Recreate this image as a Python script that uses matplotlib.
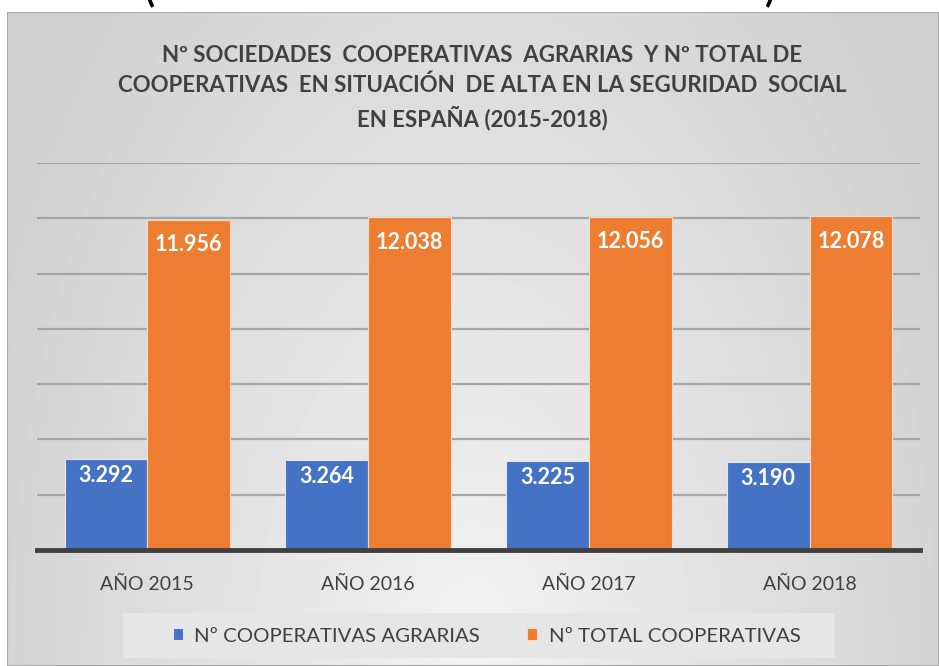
import numpy as np
from matplotlib import pyplot as plt
from matplotlib.patches import Rectangle

# datos
years = ["AÑO 2015", "AÑO 2016", "AÑO 2017", "AÑO 2018"]
agrarias = [3292, 3264, 3225, 3190]
total = [11956, 12038, 12056, 12078]
labels_agr = ["3.292", "3.264", "3.225", "3.190"]
labels_tot = ["11.956", "12.038", "12.056", "12.078"]
series_names = ["Nº COOPERATIVAS AGRARIAS", "Nº TOTAL COOPERATIVAS"]
title = ("Nº SOCIEDADES  COOPERATIVAS  AGRARIAS  Y Nº TOTAL DE\n"
         "COOPERATIVAS  EN SITUACIÓN  DE ALTA EN LA SEGURIDAD  SOCIAL\n"
         "EN ESPAÑA (2015-2018)")

plt.rcParams['font.family'] = ['Lato', 'DejaVu Sans']
BLUE = "#4472C4"
ORANGE = "#ED7D31"
TXT = "#404040"

W, H = 939, 666
fig = plt.figure(figsize=(W / 100, H / 100), dpi=100)
fig.patch.set_facecolor("white")

# fondo con degradado del area del grafico
bg = fig.add_axes([7 / W, 0, 1 - 7 / W, (H - 12) / H])
yy, xx = np.mgrid[0:1:200j, -1:1:300j]
d = np.sqrt((xx / 1.1) ** 2 + ((yy - 1.0) / 1.4) ** 2)
shade = 0.95 - 0.13 * np.clip(d, 0, 1)
bg.imshow(shade, cmap="gray", vmin=0, vmax=1, aspect="auto", origin="upper",
          extent=[0, 1, 0, 1], interpolation="bilinear")
bg.add_patch(Rectangle((0, 0), 1, 1, transform=bg.transAxes, fill=False,
                       edgecolor="#a8a8a8", linewidth=1.5))
bg.set_xlim(0, 1)
bg.set_ylim(0, 1)
bg.axis("off")
# fondo de la leyenda
fig.patches.append(Rectangle((123 / W, 1 - 658 / H), 712 / W, 45 / H,
                             transform=fig.transFigure, facecolor="#e6e6e6",
                             edgecolor="none", zorder=1))

# restos del titulo superior, cortado en la imagen original
fig.text(150 / W, 1 - 8 / H, "(", fontsize=26, fontweight="bold", color="black",
         ha="center", va="bottom")
fig.text(770 / W, 1 - 8 / H, ")", fontsize=26, fontweight="bold", color="black",
         ha="center", va="bottom")

ax = fig.add_axes([37 / W, 1 - 550 / H, 883 / W, 387 / H])
ax.patch.set_alpha(0)
x = np.arange(len(years))
bw = 0.375
b1 = ax.bar(x - bw / 2, agrarias, bw, color=BLUE, edgecolor="#dfe6f3",
            linewidth=0.8, zorder=3, label=series_names[0])
b2 = ax.bar(x + bw / 2, total, bw, color=ORANGE, edgecolor="#f6d9c4",
            linewidth=0.8, zorder=3, label=series_names[1])

for rect, lab in zip(b1, labels_agr):
    ax.text(rect.get_x() + rect.get_width() / 2, rect.get_height() - 600, lab,
            ha="center", va="center", color="white", fontsize=15.5,
            fontweight="bold", zorder=5)
for rect, lab in zip(b2, labels_tot):
    ax.text(rect.get_x() + rect.get_width() / 2, rect.get_height() - 900, lab,
            ha="center", va="center", color="white", fontsize=15.5,
            fontweight="bold", zorder=5)

ax.set_ylim(0, 14000)
ax.set_xlim(-0.5, len(years) - 0.5)
ax.set_yticks(np.arange(2000, 14001, 2000))
ax.yaxis.grid(True, color="#a6a6a6", linewidth=1.6, zorder=0)
ax.tick_params(axis="y", left=False, labelleft=False)
ax.set_xticks(x)
ax.set_xticklabels(years, fontsize=14, color=TXT)
ax.tick_params(axis="x", length=0, pad=19)
for s in ["top", "right", "left"]:
    ax.spines[s].set_visible(False)
ax.spines["bottom"].set_color(TXT)
ax.spines["bottom"].set_linewidth(3.5)
ax.spines["bottom"].set_zorder(4)

fig.text(482 / W, 1 - 88 / H, title, ha="center", va="center", fontsize=16,
         fontweight="bold", color=TXT, linespacing=1.47)

leg = fig.legend(handles=[b1, b2], loc="center left", bbox_to_anchor=(173 / W, 1 - 636 / H),
                 ncol=2, fontsize=14.7, frameon=False,
                 handlelength=0.5, handleheight=0.55, columnspacing=2.3,
                 handletextpad=0.55, borderpad=0, borderaxespad=0)
leg.set_zorder(3)
for t in leg.get_texts():
    t.set_color(TXT)

fig.savefig("out.png", dpi=100)
